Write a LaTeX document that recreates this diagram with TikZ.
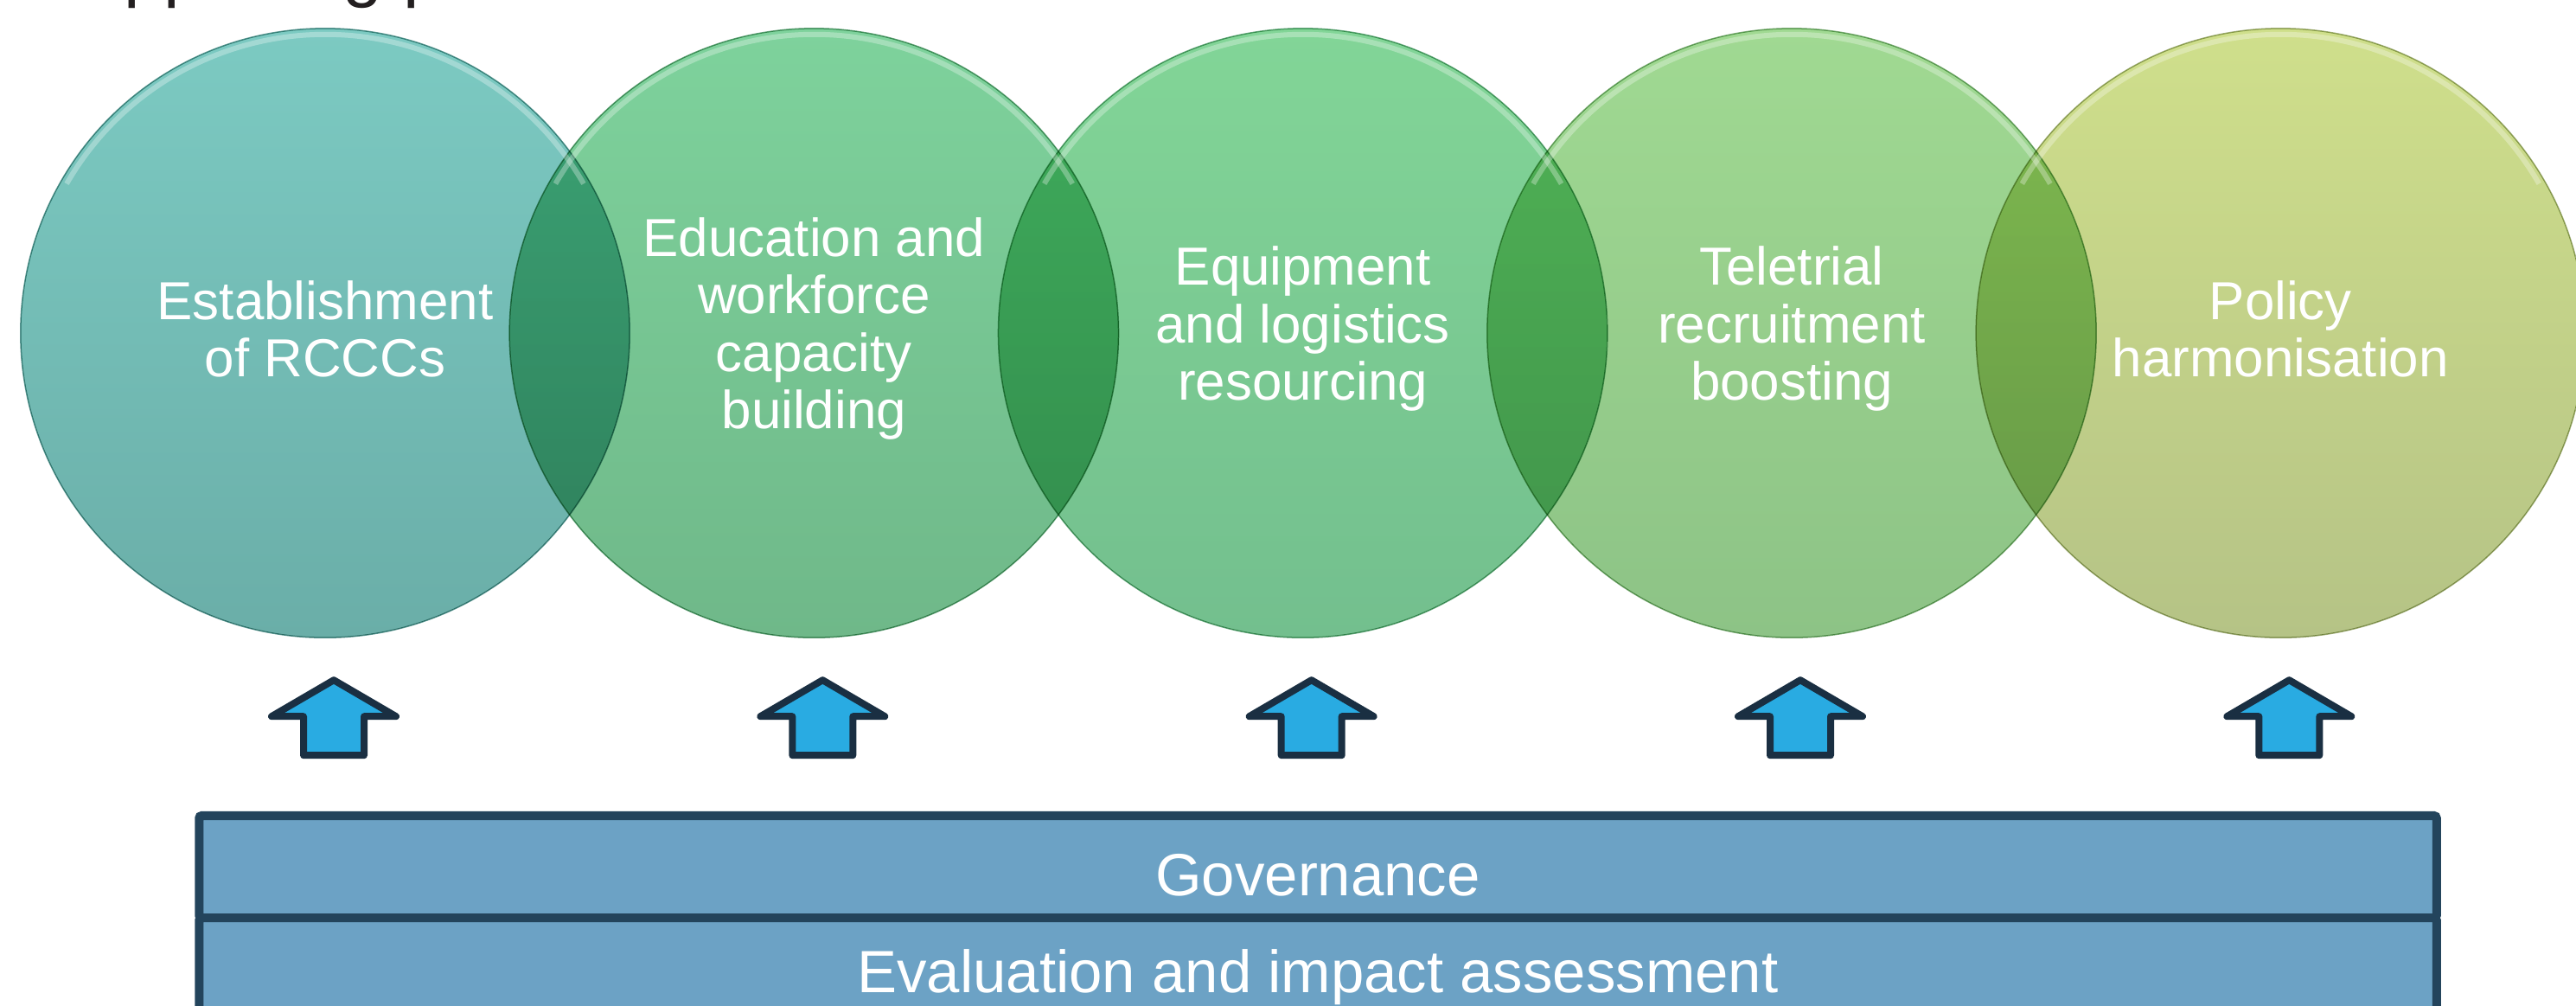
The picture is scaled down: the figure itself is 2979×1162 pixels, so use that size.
\documentclass[tikz,border=0pt]{standalone}
\usepackage{fontspec}
\setmainfont{Liberation Sans}
\usetikzlibrary{positioning, calc}
\usepackage{xcolor}
\definecolor{headline}{HTML}{231F20}
\definecolor{tealtop}{HTML}{7CCAC2}
\definecolor{tealbot}{HTML}{6AAEA8}
\definecolor{mintop}{HTML}{7ED29C}
\definecolor{minbot}{HTML}{6FB889}
\definecolor{leaftop}{HTML}{82D597}
\definecolor{leafbot}{HTML}{73BF8E}
\definecolor{limetop}{HTML}{A0D992}
\definecolor{limebot}{HTML}{8DC386}
\definecolor{olivetop}{HTML}{CFDF8B}
\definecolor{olivebot}{HTML}{B5C386}
\definecolor{arrowblue}{HTML}{29ABE2}
\definecolor{arrowline}{HTML}{1A2F42}
\definecolor{barblue}{HTML}{6CA2C5}
\definecolor{barline}{HTML}{23445C}

\begin{document}
\begin{tikzpicture}[
    x=0.01cm, y=-0.01cm,
    pillar/.style={circle, minimum size=7.04cm, inner sep=0pt, outer sep=0pt, line width=0.015cm},
    pillartext/.style={text=white, align=center, font=\fontsize{17.6}{18.8}\selectfont},
    rim/.style={white, opacity=0.3, line width=0.06cm},
    uparrow/.style={fill=arrowblue, draw=arrowline, line width=0.08cm, line join=round},
    bar/.style={draw=barline, fill=barblue, line width=0.1cm, rounded corners=0.03cm, minimum width=25.86cm, minimum height=1.18cm, inner sep=0pt, outer sep=0pt},
    bartext/.style={text=white, anchor=base, inner sep=0pt, font=\fontsize{19.6}{23}\selectfont},
]
\useasboundingbox (0,0) rectangle (2979,1162);

% heading, cut off by the top edge
\node[anchor=base west, inner sep=0pt, text=headline, font=\fontsize{23.6}{28}\selectfont] (head) at (41,-8) {Supporting pillars};

% pillars, darker where they overlap
\begin{scope}[blend group=multiply]
\node[pillar, top color=tealtop, bottom color=tealbot, draw=tealbot!88!black] (c1) at (376,385) {};
\node[pillar, top color=mintop, bottom color=minbot, draw=minbot!88!black, right=-1.39cm of c1] (c2) {};
\node[pillar, top color=leaftop, bottom color=leafbot, draw=leafbot!88!black, right=-1.39cm of c2] (c3) {};
\node[pillar, top color=limetop, bottom color=limebot, draw=limebot!88!black, right=-1.39cm of c3] (c4) {};
\node[pillar, top color=olivetop, bottom color=olivebot, draw=olivebot!88!black, right=-1.39cm of c4] (c5) {};
\end{scope}

\foreach \c in {c1, c2, c3, c4, c5} {
    \draw[rim] (\c.center) ++(150:3.45cm) arc[start angle=150, end angle=30, radius=3.45cm];
}

\node[pillartext, yshift=0.05cm] (t1) at (c1) {Establishment\\of RCCCs};
\node[pillartext, yshift=0.05cm] (t2) at (c2) {Education and\\workforce\\capacity\\building};
\node[pillartext, yshift=0.05cm] (t3) at (c3) {Equipment\\and logistics\\resourcing};
\node[pillartext, yshift=0.05cm] (t4) at (c4) {Teletrial\\recruitment\\boosting};
\node[pillartext, yshift=0.05cm] (t5) at (c5) {Policy\\harmonisation};

% block arrows under each pillar
\foreach \c in {c1, c2, c3, c4, c5} {
    \draw[uparrow] ($(\c.south)+(10,49)$) -- ++(72,42) -- ++(-37,0) -- ++(0,45)
        -- ++(-70,0) -- ++(0,-45) -- ++(-37,0) -- cycle;
}

% foundation bars
\node[bar] (gov) at (1524,1002) {};
\node[bar, below=0pt of gov] (eval) {};
\node[bartext] (govtext) at ([yshift=-0.33cm]gov.center) {Governance};
\node[bartext] (evaltext) at ([yshift=-0.27cm]eval.center) {Evaluation and impact assessment};

\end{tikzpicture}
\end{document}
